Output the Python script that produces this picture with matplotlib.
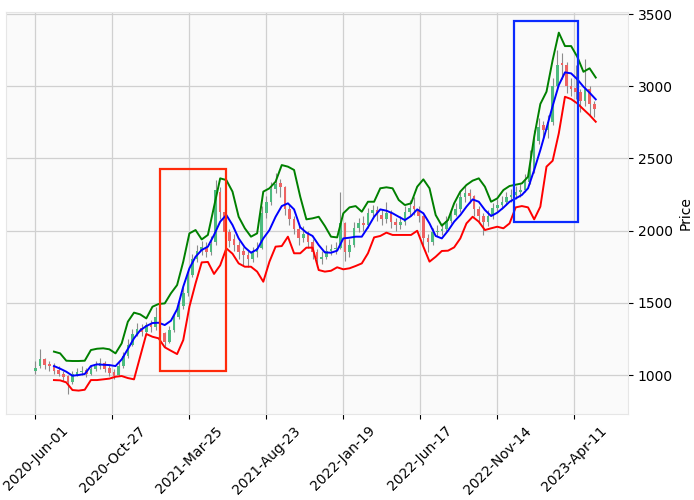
import numpy as np
import matplotlib
matplotlib.use("Agg")
import matplotlib.pyplot as plt
from matplotlib.patches import Rectangle

# candles, one every 6 trading bars (bar index of first candle = 0)
candle_step = 6
opens = [1030, 1060, 1110, 1075, 1060, 1035, 1010, 990, 955, 1000, 1020, 1035, 1010, 1045, 1060, 1080,
         1050, 1020, 1000, 1060, 1130, 1210, 1280, 1325, 1300, 1350, 1330, 1390, 1290, 1230, 1310, 1400,
         1480, 1570, 1690, 1800, 1860, 1890, 1850, 1920, 2270, 2130, 1990, 1940, 1900, 1860, 1830, 1800,
         1850, 1880, 2120, 2200, 2290, 2330, 2300, 2150, 2080, 2010, 1950, 1980, 1920, 1850, 1800, 1820,
         1860, 1870, 1880, 2050, 1850, 1900, 2020, 2050, 2040, 2120, 2140, 2110, 2080, 2120, 2060, 2040,
         2060, 2130, 2170, 2150, 2100, 1950, 1920, 1990, 2000, 2010, 2070, 2110, 2150, 2230, 2260, 2240,
         2150, 2100, 2060, 2100, 2160, 2180, 2200, 2230, 2250, 2270, 2280, 2340, 2420, 2620, 2730, 2700,
         2750, 3000, 3160, 3150, 3000, 2990, 2960, 2900, 2980, 2880]
highs = [1100, 1180, 1120, 1100, 1080, 1060, 1030, 1000, 1030, 1050, 1060, 1050, 1070, 1100, 1120, 1100,
         1070, 1040, 1090, 1160, 1250, 1320, 1360, 1350, 1370, 1380, 1470, 1400, 1300, 1340, 1430, 1510,
         1610, 1720, 1840, 1900, 1930, 1920, 1960, 2350, 2300, 2150, 2010, 1980, 1930, 1890, 1860, 1890,
         1920, 2170, 2240, 2340, 2400, 2360, 2310, 2180, 2100, 2040, 2030, 2000, 1940, 1870, 1860, 1900,
         1910, 1920, 2270, 2060, 1940, 2060, 2090, 2100, 2160, 2180, 2170, 2140, 2200, 2140, 2090, 2100,
         2170, 2210, 2230, 2170, 2110, 1980, 2020, 2040, 2050, 2100, 2150, 2190, 2270, 2310, 2290, 2250,
         2170, 2120, 2140, 2190, 2220, 2240, 2270, 2290, 2310, 2320, 2390, 2560, 2700, 2780, 2760, 2800,
         3060, 3250, 3230, 3170, 3060, 3150, 2980, 3190, 3000, 2900]
lows = [1010, 1050, 1040, 1030, 1010, 990, 960, 870, 940, 990, 1000, 985, 1000, 1030, 1040, 1020,
        990, 975, 990, 1050, 1120, 1200, 1270, 1270, 1290, 1300, 1310, 1270, 1195, 1220, 1300, 1390,
        1460, 1550, 1680, 1780, 1830, 1820, 1830, 1900, 2080, 1950, 1890, 1860, 1800, 1760, 1750, 1780,
        1820, 1870, 2090, 2180, 2260, 2230, 2110, 2040, 1980, 1900, 1920, 1880, 1800, 1750, 1770, 1800,
        1830, 1840, 1870, 1790, 1820, 1890, 1990, 2000, 2020, 2090, 2070, 2040, 2050, 2020, 2000, 2010,
        2040, 2100, 2110, 2060, 1900, 1850, 1900, 1960, 1970, 2000, 2050, 2100, 2130, 2200, 2190, 2100,
        2050, 1970, 2030, 2080, 2130, 2150, 2180, 2200, 2220, 2230, 2270, 2320, 2400, 2600, 2640, 2640,
        2730, 2980, 3050, 2950, 2930, 2910, 2820, 2860, 2800, 2790]
closes = [1050, 1110, 1070, 1060, 1030, 1010, 985, 950, 1005, 1020, 1030, 1010, 1045, 1065, 1080, 1045,
          1015, 995, 1060, 1130, 1210, 1285, 1320, 1300, 1345, 1330, 1400, 1290, 1230, 1310, 1400, 1480,
          1570, 1690, 1800, 1860, 1885, 1850, 1910, 2280, 2130, 1990, 1930, 1900, 1850, 1830, 1800, 1850,
          1880, 2120, 2200, 2290, 2320, 2300, 2150, 2080, 2010, 1950, 1980, 1920, 1850, 1800, 1820, 1860,
          1870, 1880, 2050, 1850, 1900, 2020, 2050, 2040, 2120, 2140, 2110, 2080, 2120, 2060, 2040, 2060,
          2130, 2160, 2150, 2100, 1950, 1920, 1990, 2000, 2010, 2070, 2110, 2150, 2230, 2260, 2240, 2150,
          2100, 2060, 2100, 2160, 2180, 2200, 2230, 2250, 2270, 2280, 2340, 2420, 2620, 2720, 2700, 2750,
          3000, 3150, 3150, 3000, 2980, 2960, 2900, 2980, 2880, 2840]

# bands, one value every 8 bars starting at bar 24
band_start, band_step = 24, 8
upper = [1162, 1150, 1099, 1097, 1097, 1099, 1173, 1182, 1185, 1178, 1150, 1219, 1369, 1432, 1420, 1392,
         1473, 1492, 1496, 1566, 1623, 1785, 1981, 2004, 1939, 1970, 2166, 2362, 2350, 2270,
         2096, 2016, 1958, 1981, 2270, 2293, 2339, 2454, 2443, 2420, 2235, 2078, 2085, 2096, 2032, 1958,
         1953, 2120, 2161, 2170, 2131, 2200, 2200, 2293, 2300, 2293, 2212, 2177, 2189, 2304, 2355, 2293,
         2108, 2034, 2073, 2189, 2270, 2316, 2346, 2362, 2304, 2200, 2223, 2281, 2309, 2318, 2327, 2373,
         2650, 2877, 2962, 3181, 3371, 3278, 3278, 3204, 3100, 3124, 3060]
middle = [1062, 1044, 1023, 995, 1000, 1007, 1062, 1074, 1071, 1069, 1062, 1108, 1180, 1254, 1309, 1339,
          1360, 1362, 1346, 1376, 1455, 1612, 1739, 1819, 1866, 1889, 1970, 2062, 2108, 2039,
          1946, 1884, 1847, 1870, 1946, 2004, 2096, 2170, 2189, 2147, 2023, 1986, 1963, 1900, 1849, 1847,
          1861, 1946, 1951, 1958, 1958, 2023, 2096, 2147, 2138, 2120, 2096, 2073, 2101, 2147, 2120, 2050,
          1963, 1946, 1999, 2062, 2108, 2166, 2216, 2200, 2143, 2101, 2124, 2159, 2200, 2223, 2247, 2293,
          2420, 2558, 2708, 2863, 3008, 3096, 3089, 3048, 2997, 2955, 2909]
lower = [965, 963, 949, 896, 892, 898, 965, 965, 970, 975, 988, 993, 979, 970, 1127, 1284,
         1265, 1254, 1192, 1168, 1145, 1242, 1473, 1635, 1780, 1783, 1700, 1760, 1877, 1840,
         1773, 1750, 1750, 1716, 1646, 1785, 1889, 1893, 1958, 1843, 1843, 1882, 1882, 1727, 1716, 1722,
         1746, 1732, 1739, 1755, 1773, 1843, 1953, 1963, 1986, 1970, 1970, 1970, 1970, 1999, 1889, 1785,
         1819, 1859, 1861, 1884, 1946, 2050, 2096, 2062, 2004, 2016, 2027, 2016, 2050, 2161, 2170, 2161,
         2078, 2166, 2443, 2484, 2674, 2927, 2911, 2881, 2840, 2800, 2754]

# x tick labels every 100 bars
tick_bars = [0, 100, 200, 300, 400, 500, 600, 700]
tick_labels = ["2020-Jun-01", "2020-Oct-27", "2021-Mar-25", "2021-Aug-23",
               "2022-Jan-19", "2022-Jun-17", "2022-Nov-14", "2023-Apr-11"]

# highlight boxes: (first bar, last bar, low price, high price)
red_box = [162, 247, 1028, 2427]
blue_box = [622, 705, 2060, 3451]

fig = plt.figure(figsize=(6.94, 5.0), dpi=100)
ax = fig.add_axes([0.009, 0.172, 0.896, 0.804])
ax.set_facecolor("#fafafa")

o = np.array(opens); h = np.array(highs); l = np.array(lows); c = np.array(closes)
xc = np.arange(len(c)) * candle_step
up = c >= o
# wicks then bodies
ax.vlines(xc, l, h, color="#8c8c8c", linewidth=0.8, zorder=2)
ax.bar(xc[up], (c - o)[up], bottom=o[up], width=3.4, color="#4cbb7f", linewidth=0, zorder=3)
ax.bar(xc[~up], (c - o)[~up], bottom=o[~up], width=3.4, color="#ee6262", linewidth=0, zorder=3)

xb = band_start + np.arange(len(middle)) * band_step
ax.plot(xb, upper, color="green", linewidth=1.4, zorder=4)
ax.plot(xb, middle, color="blue", linewidth=1.4, zorder=4)
ax.plot(xb, lower, color="red", linewidth=1.4, zorder=4)

for box, col in [(red_box, "#ff2a0a"), (blue_box, "#0a2aff")]:
    ax.add_patch(Rectangle((box[0], box[2]), box[1] - box[0], box[3] - box[2],
                           fill=False, edgecolor=col, linewidth=1.6, zorder=5))

ax.set_xlim(-38, 770)
ax.set_ylim(730, 3514)
ax.set_xticks(tick_bars)
ax.set_xticklabels(tick_labels, rotation=45, fontsize=10)
ax.set_yticks([1000, 1500, 2000, 2500, 3000, 3500])
ax.yaxis.tick_right()
ax.yaxis.set_label_position("right")
ax.set_ylabel("Price", fontsize=10)
ax.tick_params(labelsize=10)
ax.grid(True, color="#d0d0d0", linewidth=0.9, zorder=0)
ax.set_axisbelow(True)
for s in ax.spines.values():
    s.set_color("#e6e6e6")

fig.savefig("out.png", dpi=100)
